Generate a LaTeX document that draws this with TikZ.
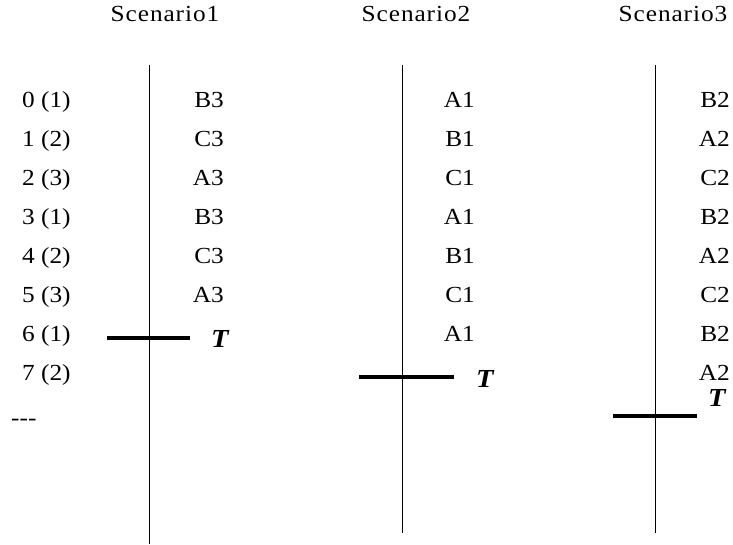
\documentclass[tikz,border=0pt]{standalone}
\usepackage{fontspec}
\setmainfont{Liberation Serif}[FakeStretch=1.1]
\begin{document}
\begin{tikzpicture}[x=1pt,y=-1pt,
  lbl/.style={inner sep=0pt,font=\fontsize{23}{27}\selectfont},
  head/.style={lbl,font=\fontsize{23}{27}\selectfont\addfontfeature{LetterSpace=4}},
  tmark/.style={inner sep=0pt,font=\fontsize{26}{30}\selectfont\bfseries\itshape},
  axis/.style={line width=0.8pt},
  cut/.style={line width=3.5pt}]
\useasboundingbox (0,0) rectangle (733,544);

% column headings
\node[head,anchor=base] (h1) at (165,21) {Scenario1};
\node[head,anchor=base] (h2) at (416,21) {Scenario2};
\node[head,anchor=base] (h3) at (673,21) {Scenario3};

% time axes
\coordinate (a1top) at (149,65);  \coordinate (a1bot) at (149,544);
\coordinate (a2top) at (402,65);  \coordinate (a2bot) at (402,533);
\coordinate (a3top) at (655,65);  \coordinate (a3bot) at (655,533);
\draw[axis] (a1top) -- (a1bot);
\draw[axis] (a2top) -- (a2bot);
\draw[axis] (a3top) -- (a3bot);

% step numbers
\foreach \lab [count=\i from 0] in {0 (1),1 (2),2 (3),3 (1),4 (2),5 (3),6 (1),7 (2)}
  \node[lbl,anchor=base west] (r\i) at (22,107+39*\i) {\lab};
\node[lbl,anchor=base west] (more) at (11,425) {-{}-{}-};

% scenario 1
\foreach \lab [count=\i from 0] in {B3,C3,A3,B3,C3,A3}
  \node[lbl,anchor=base east] (s1r\i) at (224,107+39*\i) {\lab};
% scenario 2
\foreach \lab [count=\i from 0] in {A1,B1,C1,A1,B1,C1,A1}
  \node[lbl,anchor=base east] (s2r\i) at (475,107+39*\i) {\lab};
% scenario 3
\foreach \lab [count=\i from 0] in {B2,A2,C2,B2,A2,C2,B2,A2}
  \node[lbl,anchor=base east] (s3r\i) at (730,107+39*\i) {\lab};

% deadlines
\coordinate (c1l) at (107,338); \coordinate (c1r) at (190,338);
\coordinate (c2l) at (359,377); \coordinate (c2r) at (454,377);
\coordinate (c3l) at (613,416); \coordinate (c3r) at (697,416);
\draw[cut] (c1l) -- (c1r);
\draw[cut] (c2l) -- (c2r);
\draw[cut] (c3l) -- (c3r);
\node[tmark,anchor=base west] (t1) at (211,347) {T};
\node[tmark,anchor=base west] (t2) at (476,387) {T};
\node[tmark,anchor=base west] (t3) at (708,406) {T};
\end{tikzpicture}
\end{document}
